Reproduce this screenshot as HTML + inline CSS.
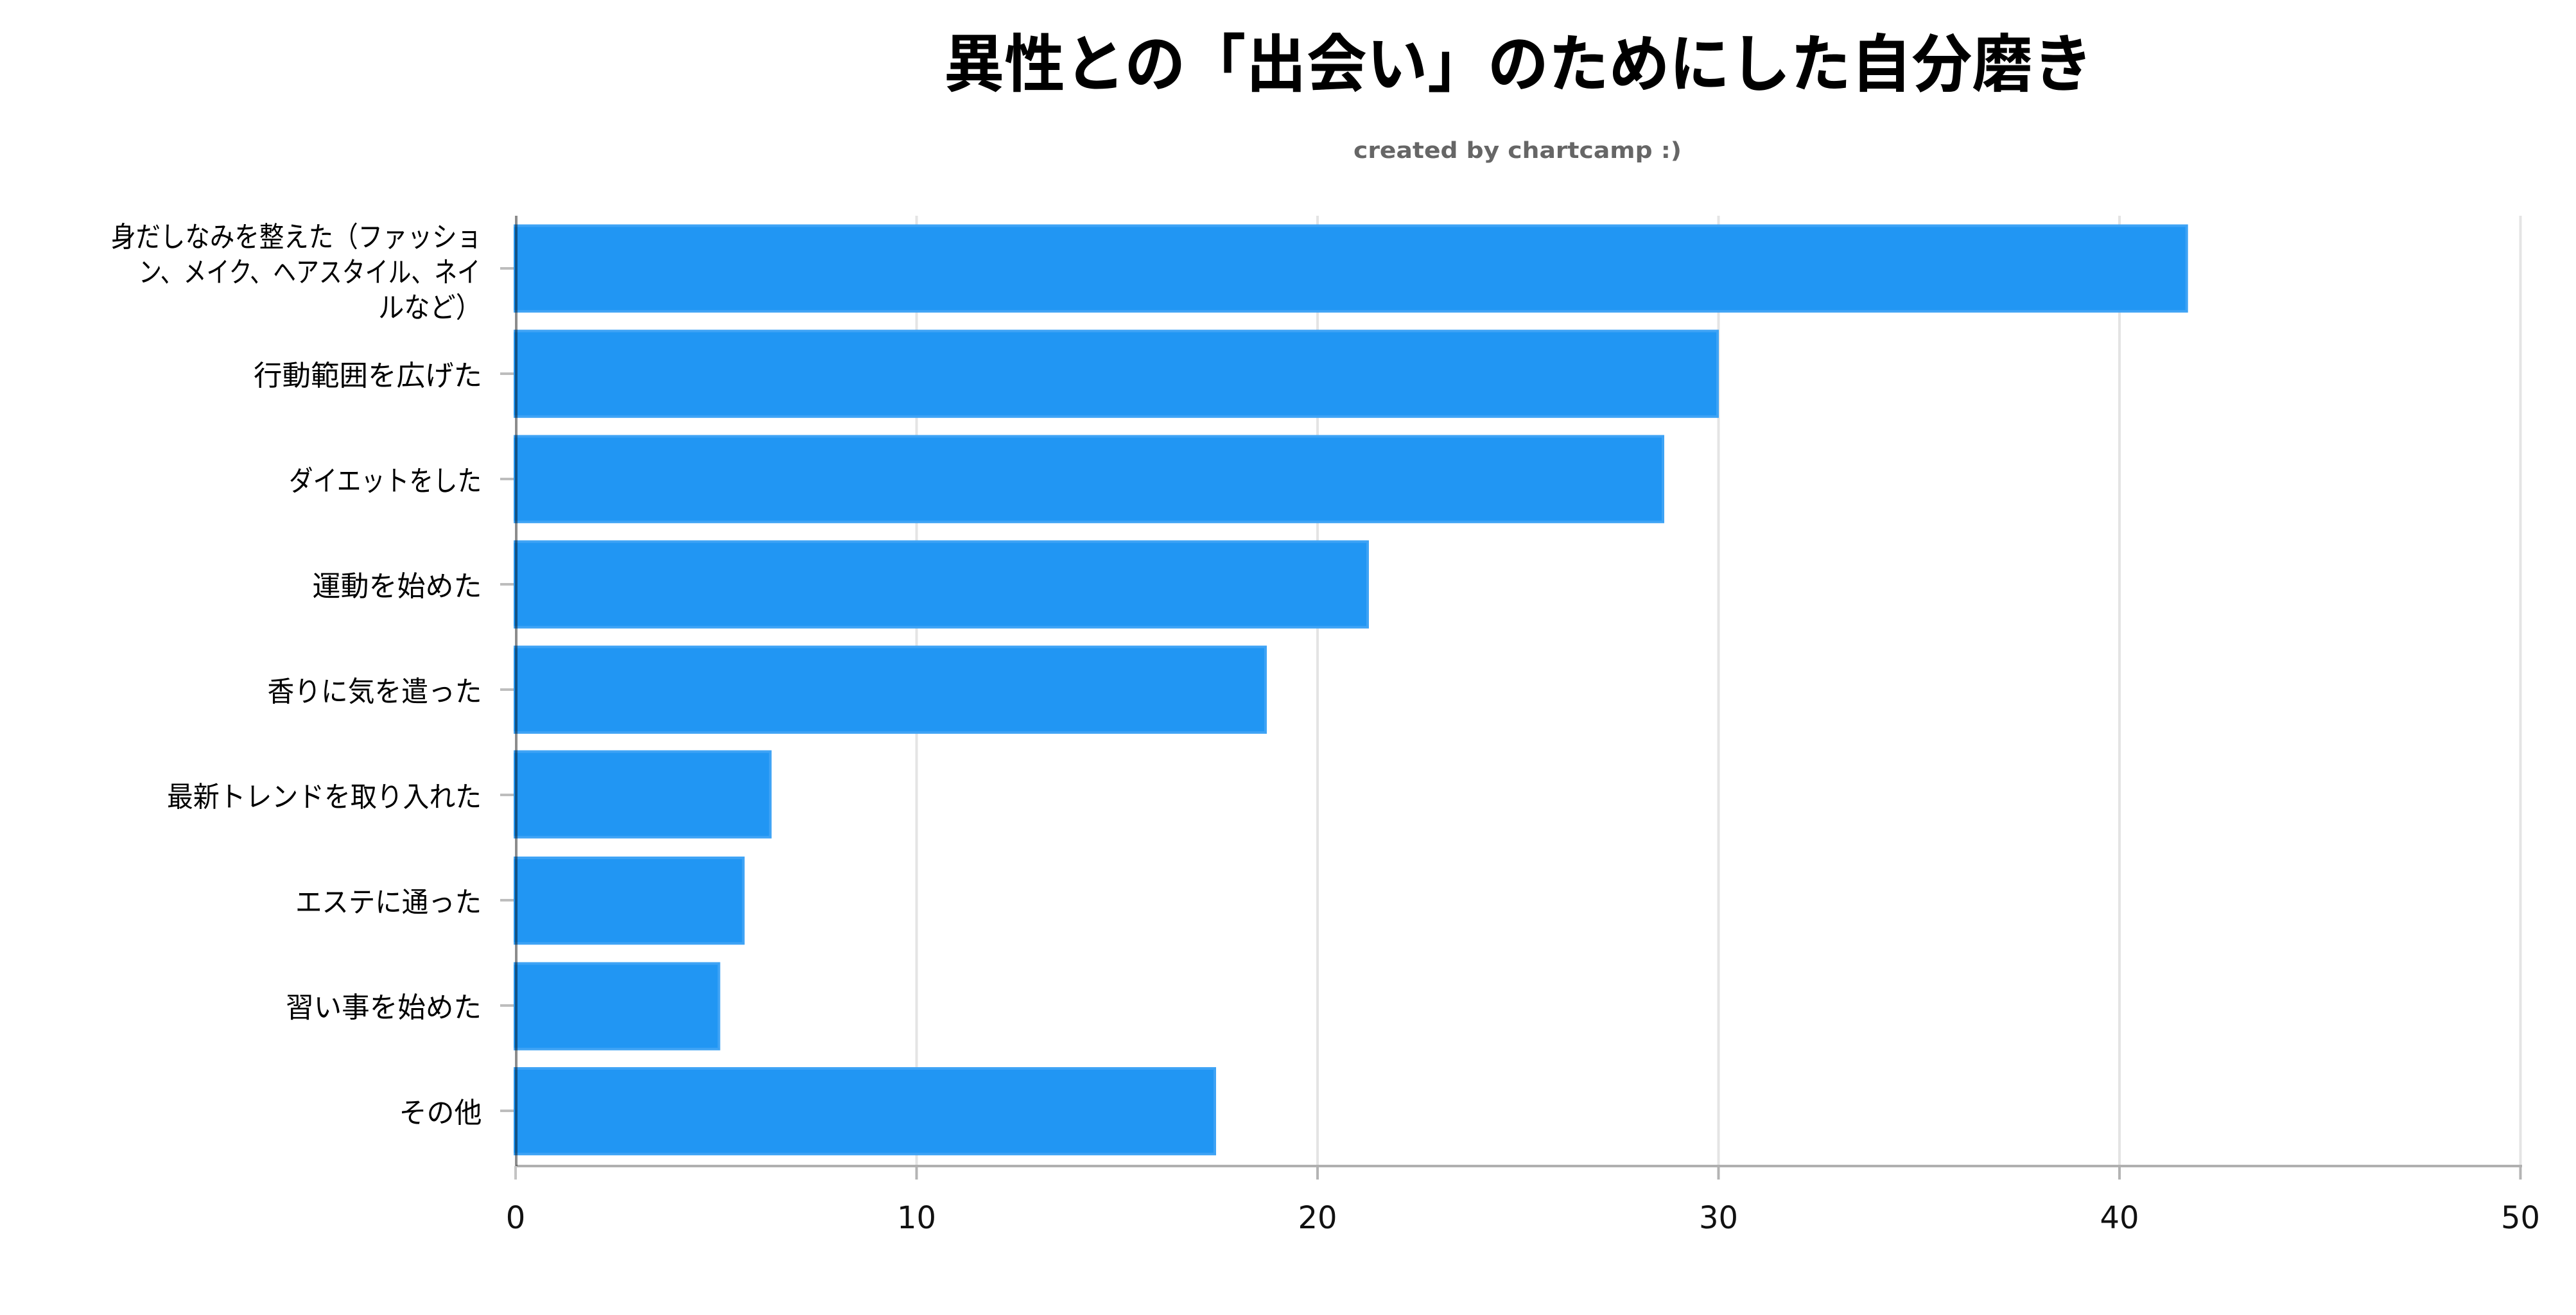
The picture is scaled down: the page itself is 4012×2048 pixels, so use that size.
<!DOCTYPE html>
<html>
<head>
<meta charset="utf-8">
<style>
  html,body{margin:0;padding:0;background:#fff;}
  body{width:4012px;height:2048px;overflow:hidden;}
  svg{display:block;}
  .lab{font-family:"Liberation Sans","Noto Sans CJK JP",sans-serif;font-size:44px;fill:#000;}
  .tick{font-family:"DejaVu Sans","Liberation Sans",sans-serif;font-size:48px;fill:#111;}
</style>
</head>
<body>
<svg width="4012" height="2048" viewBox="0 0 4012 2048" xmlns="http://www.w3.org/2000/svg">
  <rect x="0" y="0" width="4012" height="2048" fill="#fff"/>

  <!-- Title -->
  <text x="1470" y="134" font-family="'Liberation Sans','Noto Sans CJK JP',sans-serif" font-weight="bold" font-size="98" fill="#000" textLength="1790" lengthAdjust="spacingAndGlyphs">異性との「出会い」のためにした自分磨き</text>
  <!-- Subtitle -->
  <text x="2108" y="246" font-family="'DejaVu Sans','Liberation Sans',sans-serif" font-weight="bold" font-size="35" fill="#666" textLength="511" lengthAdjust="spacingAndGlyphs">created by chartcamp :)</text>

  <!-- Grid lines -->
  <g fill="#e4e4e4">
    <rect x="1425.5" y="336" width="4" height="1478"/>
    <rect x="2050" y="336" width="4" height="1478"/>
    <rect x="2674.5" y="336" width="4" height="1478"/>
    <rect x="3299" y="336" width="4" height="1478"/>
    <rect x="3923.5" y="336" width="4" height="1478"/>
  </g>

  <!-- Y ticks -->
  <g fill="#bdbdbd">
    <rect x="779" y="416" width="22" height="4"/>
    <rect x="779" y="580" width="22" height="4"/>
    <rect x="779" y="744" width="22" height="4"/>
    <rect x="779" y="908" width="22" height="4"/>
    <rect x="779" y="1072" width="22" height="4"/>
    <rect x="779" y="1236" width="22" height="4"/>
    <rect x="779" y="1400" width="22" height="4"/>
    <rect x="779" y="1564" width="22" height="4"/>
    <rect x="779" y="1728" width="22" height="4"/>
  </g>

  <!-- Bars: outer lighter border, inner fill -->
  <g>
    <rect x="800" y="349.5" width="2607.7" height="137.3" fill="#3ea3f5"/>
    <rect x="800" y="353.5" width="2603.7" height="129.3" fill="#2196f3"/>

    <rect x="800" y="513.5" width="1877" height="137.3" fill="#3ea3f5"/>
    <rect x="800" y="517.5" width="1873" height="129.3" fill="#2196f3"/>

    <rect x="800" y="677.5" width="1792" height="137.3" fill="#3ea3f5"/>
    <rect x="800" y="681.5" width="1788" height="129.3" fill="#2196f3"/>

    <rect x="800" y="841.5" width="1332" height="137.3" fill="#3ea3f5"/>
    <rect x="800" y="845.5" width="1328" height="129.3" fill="#2196f3"/>

    <rect x="800" y="1005.5" width="1173" height="137.3" fill="#3ea3f5"/>
    <rect x="800" y="1009.5" width="1169" height="129.3" fill="#2196f3"/>

    <rect x="800" y="1168.5" width="401.7" height="137.3" fill="#3ea3f5"/>
    <rect x="800" y="1172.5" width="397.7" height="129.3" fill="#2196f3"/>

    <rect x="800" y="1334" width="359.7" height="137.3" fill="#3ea3f5"/>
    <rect x="800" y="1338" width="355.7" height="129.3" fill="#2196f3"/>

    <rect x="800" y="1498.5" width="321.7" height="137.3" fill="#3ea3f5"/>
    <rect x="800" y="1502.5" width="317.7" height="129.3" fill="#2196f3"/>

    <rect x="800" y="1662" width="1094" height="137.3" fill="#3ea3f5"/>
    <rect x="800" y="1666" width="1090" height="129.3" fill="#2196f3"/>
  </g>

  <!-- X axis line -->
  <rect x="804" y="1814" width="3124" height="4" fill="#b0b0b0"/>
  <!-- X ticks -->
  <g fill="#b4b4b4">
    <rect x="801" y="1816" width="4" height="21" fill="#c4c4c4"/>
    <rect x="1425.5" y="1818" width="4" height="19"/>
    <rect x="2050" y="1818" width="4" height="19"/>
    <rect x="2674.5" y="1818" width="4" height="19"/>
    <rect x="3299" y="1818" width="4" height="19"/>
    <rect x="3923.5" y="1818" width="4" height="19"/>
  </g>
  <!-- Y axis line (semi-transparent, drawn over bars) -->
  <rect x="802" y="336" width="4" height="1480" fill="rgba(0,0,0,0.45)"/>

  <!-- X tick labels -->
  <text class="tick" x="803" y="1913" text-anchor="middle">0</text>
  <text class="tick" x="1427.5" y="1913" text-anchor="middle">10</text>
  <text class="tick" x="2052" y="1913" text-anchor="middle">20</text>
  <text class="tick" x="2676.5" y="1913" text-anchor="middle">30</text>
  <text class="tick" x="3301" y="1913" text-anchor="middle">40</text>
  <text class="tick" x="3925.5" y="1913" text-anchor="middle">50</text>

  <!-- Y category labels -->
  <text class="lab" x="173" y="384" textLength="577" lengthAdjust="spacingAndGlyphs">身だしなみを整えた（ファッショ</text>
  <text class="lab" x="216" y="439" textLength="532" lengthAdjust="spacingAndGlyphs">ン、メイク、ヘアスタイル、ネイ</text>
  <text class="lab" x="589" y="494" textLength="161" lengthAdjust="spacingAndGlyphs">ルなど）</text>

  <text class="lab" x="395" y="600" textLength="356" lengthAdjust="spacingAndGlyphs">行動範囲を広げた</text>
  <text class="lab" x="450" y="764" textLength="300" lengthAdjust="spacingAndGlyphs">ダイエットをした</text>
  <text class="lab" x="486.5" y="928" textLength="264" lengthAdjust="spacingAndGlyphs">運動を始めた</text>
  <text class="lab" x="416.5" y="1092" textLength="334" lengthAdjust="spacingAndGlyphs">香りに気を遣った</text>
  <text class="lab" x="260" y="1256" textLength="490" lengthAdjust="spacingAndGlyphs">最新トレンドを取り入れた</text>
  <text class="lab" x="460" y="1420" textLength="290" lengthAdjust="spacingAndGlyphs">エステに通った</text>
  <text class="lab" x="445" y="1584" textLength="305" lengthAdjust="spacingAndGlyphs">習い事を始めた</text>
  <text class="lab" x="621.5" y="1748" textLength="129" lengthAdjust="spacingAndGlyphs">その他</text>
</svg>
</body>
</html>
